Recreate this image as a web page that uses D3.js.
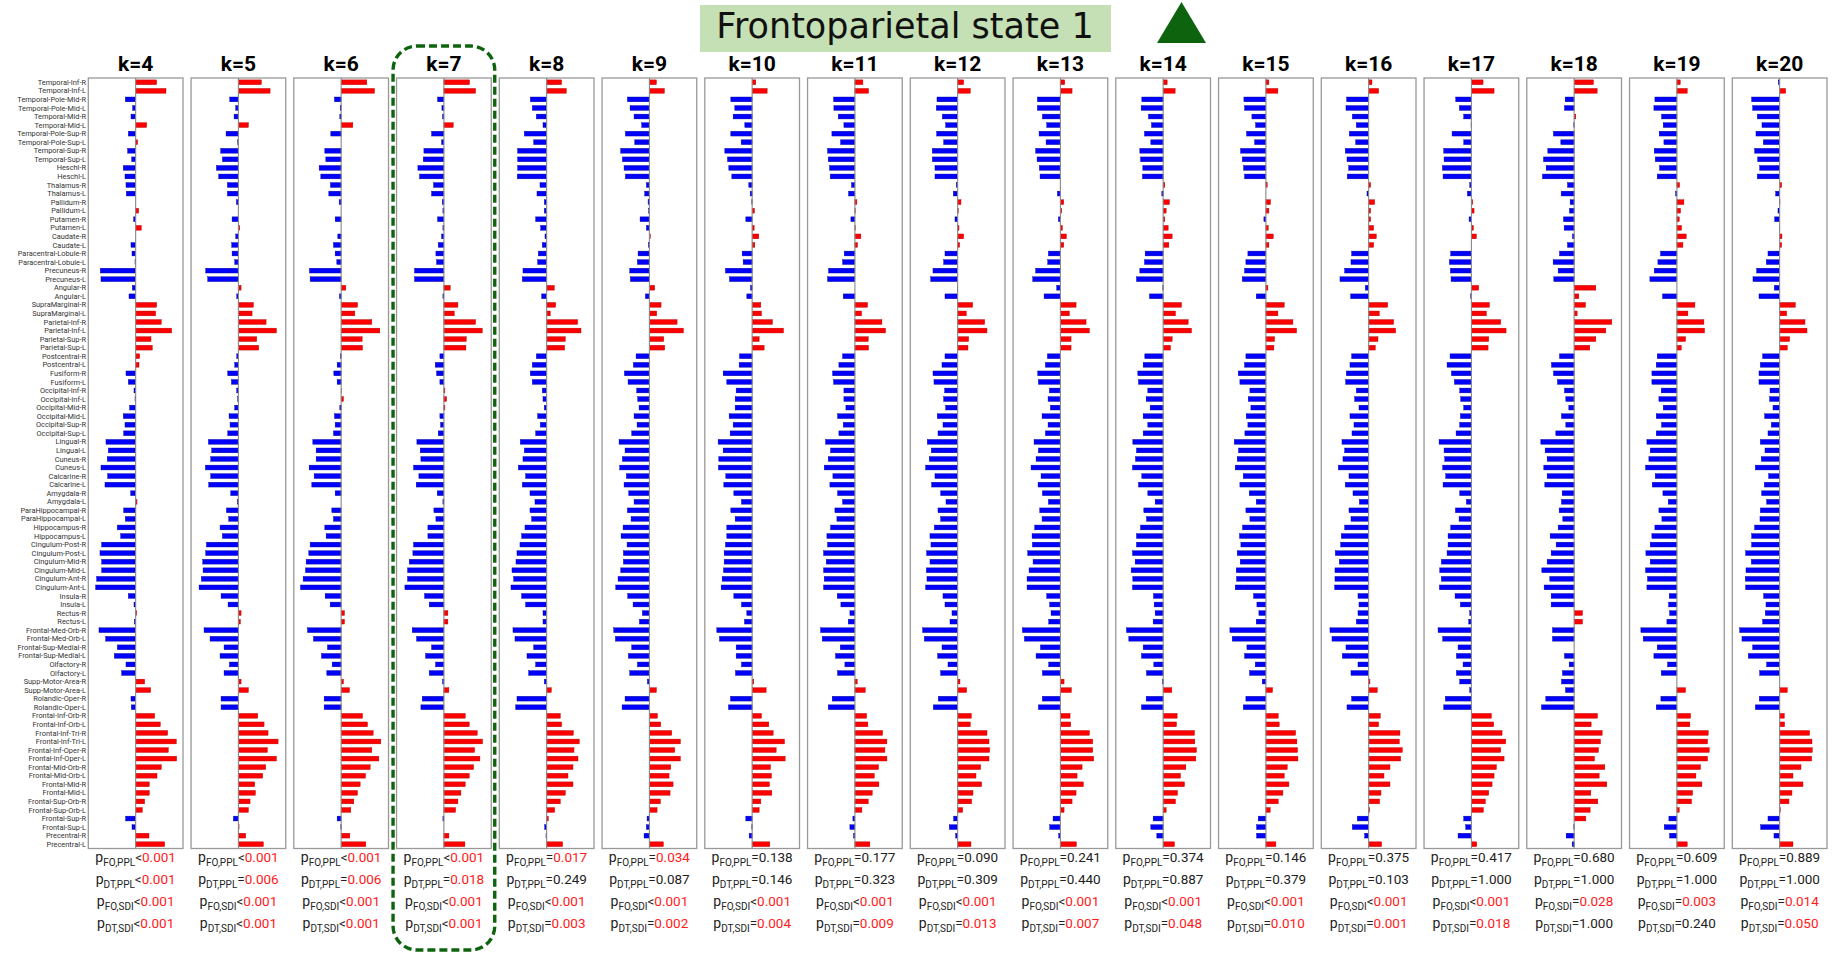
<!DOCTYPE html>
<html>
<head>
<meta charset="utf-8">
<script src="https://cdn.jsdelivr.net/npm/d3@7"></script>
<style>
  html, body { margin:0; padding:0; background:#fff; }
  svg { display:block; }
</style>
</head>
<body>
<div id="chart"></div>
<script>
// regions, top to bottom as in the figure
var regions = ["Temporal-Inf-R","Temporal-Inf-L","Temporal-Pole-Mid-R","Temporal-Pole-Mid-L","Temporal-Mid-R","Temporal-Mid-L",
  "Temporal-Pole-Sup-R","Temporal-Pole-Sup-L","Temporal-Sup-R","Temporal-Sup-L","Heschl-R","Heschl-L","Thalamus-R","Thalamus-L",
  "Pallidum-R","Pallidum-L","Putamen-R","Putamen-L","Caudate-R","Caudate-L","Paracentral-Lobule-R","Paracentral-Lobule-L",
  "Precuneus-R","Precuneus-L","Angular-R","Angular-L","SupraMarginal-R","SupraMarginal-L","Parietal-Inf-R","Parietal-Inf-L",
  "Parietal-Sup-R","Parietal-Sup-L","Postcentral-R","Postcentral-L","Fusiform-R","Fusiform-L","Occipital-Inf-R","Occipital-Inf-L",
  "Occipital-Mid-R","Occipital-Mid-L","Occipital-Sup-R","Occipital-Sup-L","Lingual-R","Lingual-L","Cuneus-R","Cuneus-L",
  "Calcarine-R","Calcarine-L","Amygdala-R","Amygdala-L","ParaHippocampal-R","ParaHippocampal-L","Hippocampus-R","Hippocampus-L",
  "Cingulum-Post-R","Cingulum-Post-L","Cingulum-Mid-R","Cingulum-Mid-L","Cingulum-Ant-R","Cingulum-Ant-L","Insula-R","Insula-L",
  "Rectus-R","Rectus-L","Frontal-Med-Orb-R","Frontal-Med-Orb-L","Frontal-Sup-Medial-R","Frontal-Sup-Medial-L","Olfactory-R","Olfactory-L",
  "Supp-Motor-Area-R","Supp-Motor-Area-L","Rolandic-Oper-R","Rolandic-Oper-L","Frontal-Inf-Orb-R","Frontal-Inf-Orb-L",
  "Frontal-Inf-Tri-R","Frontal-Inf-Tri-L","Frontal-Inf-Oper-R","Frontal-Inf-Oper-L","Frontal-Mid-Orb-R","Frontal-Mid-Orb-L",
  "Frontal-Mid-R","Frontal-Mid-L","Frontal-Sup-Orb-R","Frontal-Sup-Orb-L","Frontal-Sup-R","Frontal-Sup-L","Precentral-R","Precentral-L"];

var kLabels = ["k=4","k=5","k=6","k=7","k=8","k=9","k=10","k=11","k=12","k=13","k=14","k=15","k=16","k=17","k=18","k=19","k=20"];

// state weights per region, one list per k
var k4 = [0.63,0.91,-0.31,-0.09,-0.14,0.33,-0.22,0.06,-0.24,-0.12,-0.37,-0.32,-0.29,-0.28,0,0.09,-0.06,0.17,0,-0.14,-0.11,-0.02,-1.06,-1.04,-0.10,
  -0.20,0.63,0.60,0.77,1.08,0.46,0.50,0.12,0.10,-0.29,-0.22,-0.05,-0.02,-0.18,-0.37,-0.32,-0.36,-0.89,-0.82,-0.85,
  -1.04,-0.84,-0.92,-0.15,0.04,-0.36,-0.31,-0.55,-0.45,-1.02,-1.07,-1.02,-1.02,-1.17,-1.20,-0.22,-0.05,0.03,-0.04,-1.10,
  -0.90,-0.55,-0.64,-0.29,-0.42,0.27,0.45,-0.14,-0.13,0.57,0.74,0.96,1.22,0.98,1.23,0.77,0.64,0.41,0.41,0.27,0.20,-0.30,-0.11,0.40,0.87];
var k5 = [0.69,0.95,-0.26,-0.08,-0.13,0.30,-0.37,-0.02,-0.53,-0.48,-0.66,-0.59,-0.33,-0.33,-0.06,0,-0.19,0.04,-0.08,-0.20,-0.19,-0.11,-0.98,-0.92,0.08,
  -0.05,0.45,0.41,0.83,1.14,0.55,0.61,-0.05,-0.11,-0.32,-0.21,-0.05,-0.02,-0.11,-0.28,-0.25,-0.32,-0.90,-0.80,-0.83,
  -0.99,-0.83,-0.89,-0.23,-0.03,-0.36,-0.29,-0.55,-0.48,-0.96,-0.98,-1.07,-1.06,-1.11,-1.18,-0.52,-0.31,0.08,0.06,-1.03,
  -0.85,-0.43,-0.55,-0.27,-0.43,0.08,0.30,-0.52,-0.52,0.58,0.77,0.89,1.19,0.87,1.14,0.82,0.73,0.49,0.51,0.35,0.30,-0.15,0.02,0.22,0.75];
var k6 = [0.77,1.00,-0.20,-0.03,-0.04,0.35,-0.31,0,-0.49,-0.46,-0.66,-0.61,-0.32,-0.37,-0.06,0,-0.18,0,-0.10,-0.23,-0.18,-0.13,-0.95,-0.93,0.14,
  -0.05,0.49,0.41,0.92,1.16,0.63,0.64,-0.02,-0.12,-0.22,-0.12,0.01,0.07,-0.04,-0.20,-0.18,-0.23,-0.85,-0.75,-0.75,
  -0.96,-0.81,-0.88,-0.18,0,-0.28,-0.23,-0.49,-0.45,-0.93,-0.97,-1.05,-1.07,-1.14,-1.22,-0.48,-0.33,0.10,0.10,-1.01,
  -0.83,-0.41,-0.59,-0.27,-0.43,0.07,0.25,-0.51,-0.51,0.64,0.79,0.96,1.19,0.92,1.13,0.87,0.73,0.57,0.49,0.38,0.29,-0.12,-0.01,0.26,0.74];
var k7 = [0.77,0.95,-0.19,-0.06,-0.04,0.28,-0.37,-0.07,-0.60,-0.62,-0.78,-0.73,-0.31,-0.37,-0.05,-0.03,-0.19,-0.03,-0.07,-0.17,-0.24,-0.22,-0.88,-0.88,0.19,
  -0.03,0.42,0.31,0.95,1.15,0.67,0.66,-0.12,-0.26,-0.22,-0.12,0.03,0.08,0.03,-0.12,-0.10,-0.17,-0.81,-0.71,-0.69,
  -0.91,-0.75,-0.83,-0.20,-0.03,-0.30,-0.24,-0.48,-0.48,-0.91,-0.93,-1.04,-1.09,-1.09,-1.17,-0.58,-0.44,0.12,0.12,-0.95,
  -0.82,-0.37,-0.55,-0.25,-0.44,-0.04,0.15,-0.65,-0.69,0.64,0.76,1.00,1.16,0.92,1.08,0.89,0.76,0.64,0.51,0.42,0.35,-0.03,0,0.15,0.63];
var k8 = [0.45,0.59,-0.49,-0.43,-0.31,-0.11,-0.67,-0.39,-0.87,-0.87,-0.87,-0.88,-0.20,-0.29,-0.07,-0.07,-0.33,-0.18,-0.05,-0.13,-0.25,-0.27,-0.71,-0.73,0.23,
  -0.15,0.27,0.11,0.93,1.03,0.56,0.54,-0.31,-0.43,-0.49,-0.43,-0.13,-0.11,-0.07,-0.27,-0.19,-0.33,-0.79,-0.67,-0.71,
  -0.85,-0.63,-0.73,-0.50,-0.35,-0.50,-0.45,-0.65,-0.75,-0.80,-0.89,-0.92,-1.04,-0.99,-1.07,-0.75,-0.63,-0.11,-0.11,-1.01,
  -0.95,-0.39,-0.59,-0.33,-0.54,-0.07,0.14,-0.89,-0.93,0.41,0.45,0.80,0.98,0.82,0.94,0.79,0.64,0.79,0.56,0.41,0.24,0.05,-0.06,-0.02,0.48];
var k9 = [0.21,0.45,-0.66,-0.58,-0.46,-0.23,-0.72,-0.44,-0.86,-0.81,-0.76,-0.72,-0.09,-0.14,-0.04,-0.02,-0.28,-0.09,0.03,-0.03,-0.34,-0.36,-0.59,-0.57,0.16,
  -0.12,0.35,0.22,0.83,1.02,0.43,0.46,-0.40,-0.48,-0.75,-0.64,-0.38,-0.35,-0.31,-0.46,-0.37,-0.53,-0.91,-0.73,-0.81,
  -0.89,-0.69,-0.76,-0.62,-0.46,-0.66,-0.55,-0.79,-0.85,-0.67,-0.78,-0.78,-0.86,-0.94,-1.01,-0.65,-0.49,-0.21,-0.30,-1.07,
  -1.02,-0.53,-0.63,-0.36,-0.59,-0.06,0.21,-0.73,-0.82,0.24,0.34,0.67,0.93,0.76,0.93,0.64,0.59,0.71,0.62,0.33,0.23,-0.07,-0.09,-0.16,0.42];
var k10 = [0.11,0.45,-0.64,-0.52,-0.57,-0.22,-0.64,-0.33,-0.82,-0.74,-0.70,-0.61,-0.10,-0.06,-0.01,0.07,-0.19,0.06,0.20,0.08,-0.30,-0.27,-0.80,-0.68,-0.05,
  -0.16,0.26,0.28,0.61,0.94,0.21,0.36,-0.38,-0.39,-0.87,-0.76,-0.48,-0.51,-0.51,-0.69,-0.57,-0.66,-1.02,-0.87,-1.00,
  -1.01,-0.79,-0.85,-0.55,-0.32,-0.64,-0.51,-0.76,-0.76,-0.80,-0.84,-0.84,-0.86,-0.90,-0.93,-0.55,-0.32,-0.16,-0.23,-1.06,
  -0.98,-0.48,-0.48,-0.32,-0.50,0.05,0.42,-0.65,-0.71,0.28,0.50,0.63,0.97,0.72,0.99,0.55,0.58,0.52,0.59,0.26,0.21,-0.19,-0.01,-0.09,0.53];
var k11 = [0.24,0.41,-0.64,-0.63,-0.50,-0.33,-0.69,-0.43,-0.82,-0.80,-0.76,-0.74,-0.10,-0.19,0.06,0.01,-0.12,0.01,0.18,0.08,-0.32,-0.37,-0.79,-0.82,0,
  -0.35,0.38,0.20,0.81,0.92,0.40,0.41,-0.37,-0.48,-0.67,-0.64,-0.33,-0.33,-0.27,-0.52,-0.35,-0.48,-0.88,-0.73,-0.80,
  -0.92,-0.66,-0.75,-0.52,-0.37,-0.60,-0.54,-0.73,-0.84,-0.82,-0.94,-0.86,-0.94,-0.92,-0.94,-0.53,-0.42,-0.15,-0.20,-1.03,
  -0.98,-0.44,-0.58,-0.30,-0.52,0.07,0.31,-0.68,-0.80,0.35,0.39,0.83,0.96,0.90,0.96,0.71,0.58,0.72,0.52,0.40,0.21,-0.06,-0.15,-0.04,0.45];
var k12 = [0.18,0.38,-0.62,-0.64,-0.46,-0.36,-0.63,-0.42,-0.76,-0.76,-0.68,-0.68,-0.04,-0.13,0.10,0.02,-0.08,0.04,0.18,0.06,-0.38,-0.42,-0.74,-0.81,-0.01,
  -0.38,0.45,0.26,0.81,0.88,0.33,0.31,-0.38,-0.47,-0.74,-0.71,-0.39,-0.42,-0.36,-0.61,-0.44,-0.59,-0.91,-0.79,-0.85,
  -0.96,-0.68,-0.78,-0.51,-0.35,-0.59,-0.51,-0.70,-0.83,-0.80,-0.93,-0.83,-0.94,-0.92,-0.96,-0.44,-0.38,-0.17,-0.23,-1.05,
  -1.00,-0.47,-0.60,-0.29,-0.51,0.07,0.27,-0.58,-0.73,0.41,0.38,0.88,0.94,0.96,0.94,0.69,0.55,0.72,0.46,0.42,0.15,-0.12,-0.25,-0.06,0.40];
var k13 = [0.13,0.35,-0.69,-0.69,-0.54,-0.41,-0.64,-0.43,-0.74,-0.70,-0.63,-0.61,0,-0.09,0.10,0.04,-0.06,0.06,0.18,0.10,-0.36,-0.38,-0.74,-0.83,-0.11,
  -0.49,0.47,0.27,0.77,0.87,0.32,0.32,-0.39,-0.45,-0.68,-0.66,-0.33,-0.37,-0.30,-0.55,-0.37,-0.45,-0.79,-0.66,-0.73,
  -0.88,-0.58,-0.67,-0.54,-0.36,-0.62,-0.55,-0.77,-0.85,-0.84,-0.98,-0.82,-0.94,-1.00,-1.00,-0.41,-0.32,-0.28,-0.35,-1.14,
  -1.08,-0.60,-0.73,-0.35,-0.54,0.11,0.33,-0.54,-0.66,0.29,0.31,0.87,0.97,0.97,1.00,0.65,0.50,0.69,0.47,0.35,0.11,-0.22,-0.32,-0.05,0.48];
var k14 = [0.12,0.36,-0.64,-0.66,-0.44,-0.35,-0.56,-0.37,-0.70,-0.68,-0.61,-0.62,0.05,-0.04,0.19,0.09,0.05,0.15,0.27,0.17,-0.54,-0.56,-0.70,-0.80,-0.01,
  -0.41,0.55,0.37,0.75,0.85,0.27,0.22,-0.55,-0.60,-0.76,-0.74,-0.46,-0.51,-0.39,-0.60,-0.46,-0.60,-0.91,-0.80,-0.83,
  -0.92,-0.64,-0.74,-0.46,-0.24,-0.58,-0.50,-0.68,-0.80,-0.80,-0.92,-0.84,-0.96,-0.91,-0.92,-0.29,-0.27,-0.24,-0.30,-1.10,
  -1.03,-0.60,-0.65,-0.28,-0.50,-0.02,0.26,-0.51,-0.65,0.42,0.40,0.94,0.95,1.00,0.98,0.68,0.52,0.64,0.43,0.37,0.09,-0.30,-0.37,-0.19,0.34];
var k15 = [0.09,0.36,-0.66,-0.64,-0.42,-0.31,-0.58,-0.34,-0.76,-0.71,-0.67,-0.64,0.04,0,0.14,0.09,-0.06,0.07,0.22,0.09,-0.54,-0.60,-0.64,-0.71,0.06,
  -0.29,0.55,0.36,0.81,0.92,0.26,0.24,-0.60,-0.64,-0.83,-0.78,-0.48,-0.53,-0.45,-0.59,-0.54,-0.63,-0.95,-0.82,-0.86,
  -0.92,-0.68,-0.78,-0.50,-0.29,-0.60,-0.48,-0.70,-0.79,-0.75,-0.86,-0.77,-0.89,-0.88,-0.92,-0.37,-0.27,-0.21,-0.29,-1.08,
  -1.01,-0.57,-0.64,-0.32,-0.49,-0.11,0.20,-0.60,-0.68,0.37,0.40,0.89,0.93,0.95,0.96,0.64,0.55,0.69,0.51,0.37,0.13,-0.23,-0.28,-0.28,0.30];
var k16 = [0.10,0.30,-0.66,-0.68,-0.49,-0.37,-0.58,-0.39,-0.70,-0.65,-0.60,-0.64,0.06,-0.05,0.18,0.06,0.06,0.15,0.23,0.15,-0.51,-0.53,-0.72,-0.86,-0.10,
  -0.54,0.57,0.32,0.75,0.81,0.28,0.20,-0.51,-0.56,-0.67,-0.69,-0.37,-0.42,-0.29,-0.56,-0.44,-0.50,-0.80,-0.72,-0.77,
  -0.91,-0.59,-0.70,-0.47,-0.28,-0.59,-0.53,-0.72,-0.82,-0.84,-1.00,-0.88,-1.01,-1.01,-1.02,-0.32,-0.29,-0.32,-0.37,-1.16,
  -1.10,-0.68,-0.79,-0.32,-0.53,0.04,0.26,-0.51,-0.65,0.35,0.30,0.94,0.92,1.01,0.96,0.64,0.46,0.64,0.37,0.33,0.03,-0.34,-0.49,-0.12,0.39];
var k17 = [0.35,0.68,-0.47,-0.36,-0.23,-0.01,-0.58,-0.23,-0.83,-0.82,-0.87,-0.85,-0.05,-0.12,0.04,0.08,-0.07,0.06,0.15,0,-0.62,-0.66,-0.63,-0.61,0.22,
  -0.02,0.54,0.45,0.88,1.04,0.52,0.50,-0.64,-0.73,-0.60,-0.51,-0.35,-0.32,-0.23,-0.33,-0.35,-0.46,-0.97,-0.82,-0.80,
  -0.86,-0.77,-0.85,-0.35,-0.15,-0.48,-0.37,-0.62,-0.70,-0.70,-0.73,-0.90,-0.95,-0.90,-0.96,-0.49,-0.33,-0.05,-0.08,-1.00,
  -0.86,-0.40,-0.45,-0.25,-0.45,-0.35,-0.05,-0.78,-0.83,0.60,0.67,0.92,1.03,0.88,0.98,0.75,0.68,0.62,0.52,0.42,0.36,-0.23,-0.17,-0.40,0.16];
var k18 = [0.58,0.69,-0.27,-0.29,0.05,-0.01,-0.62,-0.40,-0.79,-0.92,-0.84,-0.95,-0.20,-0.39,-0.12,-0.14,-0.32,-0.30,-0.05,-0.20,-0.44,-0.63,-0.48,-0.61,0.65,
  0.14,0.34,0.09,1.13,0.95,0.65,0.47,-0.44,-0.68,-0.62,-0.50,-0.29,-0.25,-0.16,-0.38,-0.25,-0.55,-1.00,-0.87,-0.81,
  -0.91,-0.81,-0.88,-0.36,-0.38,-0.45,-0.34,-0.48,-0.72,-0.54,-0.69,-0.81,-0.97,-0.73,-0.90,-0.69,-0.69,0.25,0.25,-0.65,
  -0.65,0,-0.29,-0.15,-0.35,-0.38,-0.26,-0.85,-0.98,0.70,0.51,0.84,0.79,0.73,0.61,0.92,0.75,0.98,0.50,0.71,0.48,0.35,-0.01,-0.24,-0.06];
var k19 = [0.10,0.31,-0.66,-0.69,-0.46,-0.41,-0.53,-0.39,-0.68,-0.65,-0.52,-0.59,0.08,-0.04,0.21,0.11,0.07,0.14,0.28,0.18,-0.49,-0.57,-0.68,-0.81,0,
  -0.43,0.54,0.33,0.81,0.83,0.26,0.13,-0.59,-0.62,-0.75,-0.75,-0.47,-0.54,-0.41,-0.62,-0.46,-0.62,-0.90,-0.80,-0.84,
  -0.94,-0.65,-0.74,-0.42,-0.26,-0.54,-0.45,-0.66,-0.75,-0.80,-0.93,-0.80,-0.94,-0.88,-0.90,-0.23,-0.25,-0.22,-0.30,-1.08,
  -1.01,-0.59,-0.69,-0.28,-0.47,0,0.26,-0.48,-0.62,0.41,0.39,0.94,0.92,0.97,0.92,0.71,0.57,0.75,0.47,0.44,0.07,-0.24,-0.38,-0.22,0.31];
var k20 = [-0.04,0.18,-0.84,-0.81,-0.67,-0.53,-0.71,-0.49,-0.75,-0.66,-0.60,-0.67,0.06,-0.12,0.01,-0.05,-0.15,-0.01,0.07,0.06,-0.35,-0.40,-0.69,-0.80,-0.16,
  -0.62,0.47,0.21,0.76,0.82,0.30,0.23,-0.51,-0.58,-0.62,-0.62,-0.29,-0.30,-0.20,-0.45,-0.25,-0.35,-0.58,-0.44,-0.55,
  -0.73,-0.33,-0.46,-0.54,-0.39,-0.58,-0.59,-0.75,-0.84,-0.84,-1.02,-0.85,-1.01,-1.03,-1.02,-0.48,-0.41,-0.43,-0.51,-1.20,
  -1.13,-0.81,-0.94,-0.39,-0.60,0,0.23,-0.61,-0.73,0.14,0.15,0.90,0.97,0.98,0.96,0.64,0.40,0.70,0.37,0.28,0.02,-0.35,-0.57,-0.17,0.40];

var series = [k4,k5,k6,k7,k8,k9,k10,k11,k12,k13,k14,k15,k16,k17,k18,k19,k20];

// p values under each panel
var pFoPpl = ["<0.001","<0.001","<0.001","<0.001","=0.017","=0.034","=0.138","=0.177","=0.090","=0.241","=0.374","=0.146","=0.375","=0.417","=0.680","=0.609","=0.889"];
var pDtPpl = ["<0.001","=0.006","=0.006","=0.018","=0.249","=0.087","=0.146","=0.323","=0.309","=0.440","=0.887","=0.379","=0.103","=1.000","=1.000","=1.000","=1.000"];
var pFoSdi = ["<0.001","<0.001","<0.001","<0.001","<0.001","<0.001","<0.001","<0.001","<0.001","<0.001","<0.001","<0.001","<0.001","<0.001","=0.028","=0.003","=0.014"];
var pDtSdi = ["<0.001","<0.001","<0.001","<0.001","=0.003","=0.002","=0.004","=0.009","=0.013","=0.007","=0.048","=0.010","=0.001","=0.018","=1.000","=0.240","=0.050"];
var pNames = ["FO,PPL","DT,PPL","FO,SDI","DT,SDI"];
var pLists = [pFoPpl,pDtPpl,pFoSdi,pDtSdi];

var highlightK = "k=7";
var title = "Frontoparietal state 1";

var W = 1840, H = 954;
var svg = d3.select("#chart").append("svg").attr("width", W).attr("height", H);

var panel = d3.scaleBand().domain(kLabels).range([88.3, 1827]).paddingInner(0.0783).paddingOuter(0);
var y = d3.scaleBand().domain(regions).range([78, 848.5]).paddingInner(0.44).paddingOuter(0.22);
var rowStep = y.step();

// title
svg.append("rect").attr("x", 700).attr("y", 5).attr("width", 411).attr("height", 47).attr("fill", "#c5e0b4");
svg.append("text").attr("x", 905).attr("y", 38).attr("text-anchor", "middle")
  .style("font-family", "DejaVu Sans").style("font-size", "35px").attr("fill", "#111").text(title);
svg.append("path").attr("d", "M1181.5,2 L1206,43 L1157,43 Z").attr("fill", "#0e640e");

// row labels
svg.append("g").selectAll("text").data(regions).enter().append("text")
  .attr("x", 86).attr("y", function(d) { return y(d) + y.bandwidth() / 2; })
  .attr("dy", "0.35em").attr("text-anchor", "end")
  .style("font-family", "Roboto").style("font-size", "7.4px").attr("fill", "#333")
  .text(function(d) { return d; });

kLabels.forEach(function(k, i) {
  var left = panel(k), bw = panel.bandwidth();
  var x = d3.scaleLinear().domain([-1.42, 1.42]).range([left, left + bw]);
  var g = svg.append("g");

  g.append("text").attr("x", left + bw / 2).attr("y", 71).attr("text-anchor", "middle")
    .style("font-family", "Roboto").style("font-weight", "bold").style("font-size", "21px")
    .attr("fill", "#000").text(k);

  g.append("rect").attr("x", left).attr("y", 78).attr("width", bw).attr("height", 770.5)
    .attr("fill", "#fff").attr("stroke", "#999").attr("stroke-width", 1.3);

  var vals = series[i];
  g.selectAll("rect.bar").data(vals).enter().append("rect").attr("class", "bar")
    .attr("x", function(d) { return x(Math.min(0, d)); })
    .attr("y", function(d, j) { return y(regions[j]); })
    .attr("width", function(d) { return Math.abs(x(d) - x(0)); })
    .attr("height", y.bandwidth())
    .attr("fill", function(d) { return d >= 0 ? "#ff0000" : "#0000ff"; })
    .attr("stroke", function(d) { return d >= 0 ? "#a00" : "#00008a"; })
    .attr("stroke-width", function(d) { return d === 0 ? 0 : 0.4; });

  g.append("line").attr("x1", x(0)).attr("x2", x(0)).attr("y1", 78).attr("y2", 848.5)
    .attr("stroke", "#888").attr("stroke-width", 1.1);

  // p values
  pLists.forEach(function(list, j) {
    var s = list[i];
    var num = parseFloat(s.slice(1));
    var t = g.append("text").attr("x", left + bw / 2).attr("y", 862 + 22 * j)
      .attr("text-anchor", "middle").style("font-family", "Roboto").attr("fill", "#222");
    t.append("tspan").style("font-size", "14px").text("p");
    t.append("tspan").style("font-size", "10px").attr("dy", 4).text(pNames[j]);
    t.append("tspan").style("font-size", "13.5px").attr("dy", -4).text(s.charAt(0));
    t.append("tspan").style("font-size", "13.5px")
      .attr("fill", (s.charAt(0) === "<" || num <= 0.05) ? "#ff1a1a" : "#222")
      .text(s.slice(1));
  });
});

// dashed highlight around chosen k
var hl = panel(highlightK);
svg.append("rect").attr("x", hl - 3.5).attr("y", 46).attr("width", panel.bandwidth() + 7).attr("height", 904)
  .attr("rx", 24).attr("ry", 24).attr("fill", "none")
  .attr("stroke", "#0e640e").attr("stroke-width", 3.4).attr("stroke-dasharray", "8,4");
</script>
</body>
</html>
